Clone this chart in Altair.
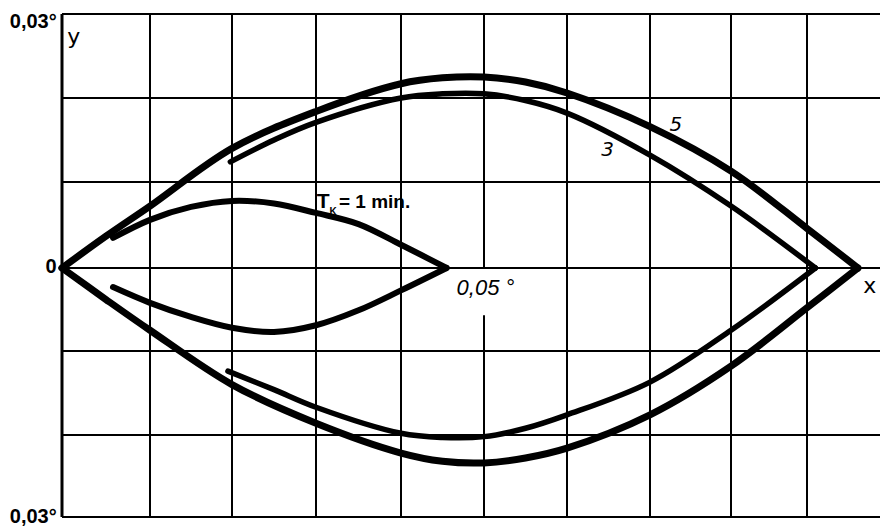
import altair as alt
import pandas as pd

# ---- grid (degrees) -------------------------------------------------------
x_ticks = [0.00, 0.01, 0.02, 0.03, 0.04, 0.05, 0.06, 0.07, 0.08, 0.09]
y_ticks = [-0.03, -0.02, -0.01, 0.00, 0.01, 0.02, 0.03]
x_end = 0.10
label_gap_bottom = -0.0057  # the 0.05 line is broken below the axis for its label

# hand-ruled grid: pixel offset of every ruled line inside the plot area
x_ruled_px = [0, 88, 170, 254, 339, 422, 505, 588, 669, 745, 821]
y_ruled_px = [503, 421, 337, 254, 168, 84, 0]

# ---- deflection curves (x, y in degrees) -----------------------------------
c5_up_x = [0, 0.005, 0.010, 0.020, 0.030, 0.040, 0.045, 0.050, 0.055, 0.060,
           0.070, 0.080, 0.090, 0.0967]
c5_up_y = [0, 0.0037, 0.0072, 0.0140, 0.0184, 0.0217, 0.0224, 0.0225, 0.0219,
           0.0206, 0.0166, 0.0113, 0.0046, 0]
c5_lo_x = [0, 0.005, 0.010, 0.020, 0.030, 0.040, 0.045, 0.050, 0.055, 0.060,
           0.070, 0.080, 0.090, 0.0967]
c5_lo_y = [0, -0.0038, -0.0075, -0.0140, -0.0186, -0.0222, -0.0232, -0.0234,
           -0.0228, -0.0216, -0.0176, -0.0118, -0.0048, 0]

c3_up_x = [0.0198, 0.025, 0.030, 0.040, 0.045, 0.050, 0.055, 0.060, 0.070,
           0.080, 0.0911]
c3_up_y = [0.0124, 0.0150, 0.0171, 0.0200, 0.0205, 0.0205, 0.0197, 0.0182,
           0.0132, 0.0072, 0]
c3_lo_x = [0.0195, 0.025, 0.030, 0.040, 0.045, 0.050, 0.055, 0.060, 0.070,
           0.080, 0.0911]
c3_lo_y = [-0.0124, -0.0146, -0.0167, -0.0198, -0.0203, -0.0202, -0.0192,
           -0.0176, -0.0137, -0.0075, 0]

c1_up_x = [0.0058, 0.010, 0.015, 0.020, 0.025, 0.030, 0.035, 0.040, 0.0455]
c1_up_y = [0.0035, 0.0056, 0.0071, 0.0078, 0.0075, 0.0064, 0.0051, 0.0027, 0]
c1_lo_x = [0.0058, 0.010, 0.015, 0.020, 0.025, 0.030, 0.035, 0.040, 0.0455]
c1_lo_y = [-0.0023, -0.0042, -0.0059, -0.0072, -0.0077, -0.0069, -0.0051,
           -0.0027, 0]


def curve_table(branches):
    return pd.DataFrame(
        [{"branch": name, "x": x, "y": y}
         for name, (xs_, ys_) in branches.items() for x, y in zip(xs_, ys_)]
    )


tk5_df = curve_table({"upper": (c5_up_x, c5_up_y), "lower": (c5_lo_x, c5_lo_y)})
tk3_df = curve_table({"upper": (c3_up_x, c3_up_y), "lower": (c3_lo_x, c3_lo_y)})
tk1_df = curve_table({"upper": (c1_up_x, c1_up_y), "lower": (c1_lo_x, c1_lo_y)})

# ---- grid tables ---------------------------------------------------------------
vrules = []
for xv in x_ticks:
    if abs(xv - 0.05) < 1e-9:
        vrules.append({"x": xv, "y": 0.0, "y2": y_ticks[-1]})
        vrules.append({"x": xv, "y": y_ticks[0], "y2": label_gap_bottom})
    else:
        vrules.append({"x": xv, "y": y_ticks[0], "y2": y_ticks[-1]})
vrule_df = pd.DataFrame(vrules)
hrule_df = pd.DataFrame({"y": y_ticks, "x": [0.0] * len(y_ticks), "x2": [x_end] * len(y_ticks)})
border_df = pd.DataFrame({"x": [0.0], "y": [y_ticks[0]], "y2": [y_ticks[-1]]})

xs = alt.Scale(domain=x_ticks + [x_end], range=x_ruled_px, zero=False, nice=False)
ys = alt.Scale(domain=y_ticks, range=y_ruled_px, zero=False, nice=False)


def X(field="x"):
    return alt.X(f"{field}:Q", scale=xs, axis=None)


def Y(field="y"):
    return alt.Y(f"{field}:Q", scale=ys, axis=None)


grid_v = alt.Chart(vrule_df).mark_rule(color="black", strokeWidth=2).encode(
    x=X(), y=Y(), y2="y2:Q")
grid_h = alt.Chart(hrule_df).mark_rule(color="black", strokeWidth=2).encode(
    y=Y(), x=X(), x2="x2:Q")
border = alt.Chart(border_df).mark_rule(color="black", strokeWidth=3).encode(
    x=X(), y=Y(), y2="y2:Q")


def curve_layer(df, width):
    return alt.Chart(df).mark_line(
        color="black", strokeWidth=width, interpolate="catmull-rom",
        strokeCap="round", strokeJoin="round",
    ).encode(x=X(), y=Y(), detail="branch:N")


line5 = curve_layer(tk5_df, 7.0)
line3 = curve_layer(tk3_df, 5.5)
line1 = curve_layer(tk1_df, 6.0)

# ---- text ---------------------------------------------------------------------
sans = "Liberation Sans, Arial, sans-serif"
hand = "DejaVu Sans, sans-serif"


def text_layer(rows, **kw):
    df = pd.DataFrame(rows, columns=["label", "x", "y"])
    return alt.Chart(df).mark_text(color="black", **kw).encode(
        x=X(), y=Y(), text="label:N")


scale_labels = text_layer(
    [["0,03°", -0.0006, 0.0283], ["0", -0.0006, -0.0006], ["0,03°", -0.0006, -0.0307]],
    font=sans, fontSize=20, fontWeight="bold", align="right", baseline="alphabetic")
axis_letters = text_layer(
    [["y", 0.0006, 0.0264], ["x", 0.0974, -0.0030]],
    font=hand, fontSize=22, align="left", baseline="alphabetic")
curve_tags = text_layer(
    [["5", 0.0732, 0.0168], ["3", 0.0649, 0.0138]],
    font=hand, fontSize=20, fontStyle="italic", align="center", baseline="middle")
tk_main = text_layer(
    [["T", 0.0301, 0.0070]],
    font=sans, fontSize=21, fontWeight="bold", align="left", baseline="alphabetic")
tk_sub = text_layer(
    [["K", 0.0316, 0.0062]],
    font=sans, fontSize=10, fontWeight="bold", align="left", baseline="alphabetic")
tk_rest = text_layer(
    [["= 1 min.", 0.0327, 0.0070]],
    font=sans, fontSize=19, fontWeight="bold", align="left", baseline="alphabetic")
x_value = text_layer(
    [["0,05 °", 0.0467, -0.0033]],
    font=sans, fontSize=22, fontStyle="italic", align="left", baseline="alphabetic")

chart = alt.layer(
    grid_h, grid_v, border, line5, line3, line1,
    scale_labels, axis_letters, curve_tags, tk_main, tk_sub, tk_rest, x_value,
).properties(
    width=818, height=503, autosize="none",
    padding={"left": 62, "top": 14, "right": 0, "bottom": 10},
    background="white",
).configure_view(strokeWidth=0)

chart.save("out.html", embed_options={"renderer": "svg", "actions": False})
